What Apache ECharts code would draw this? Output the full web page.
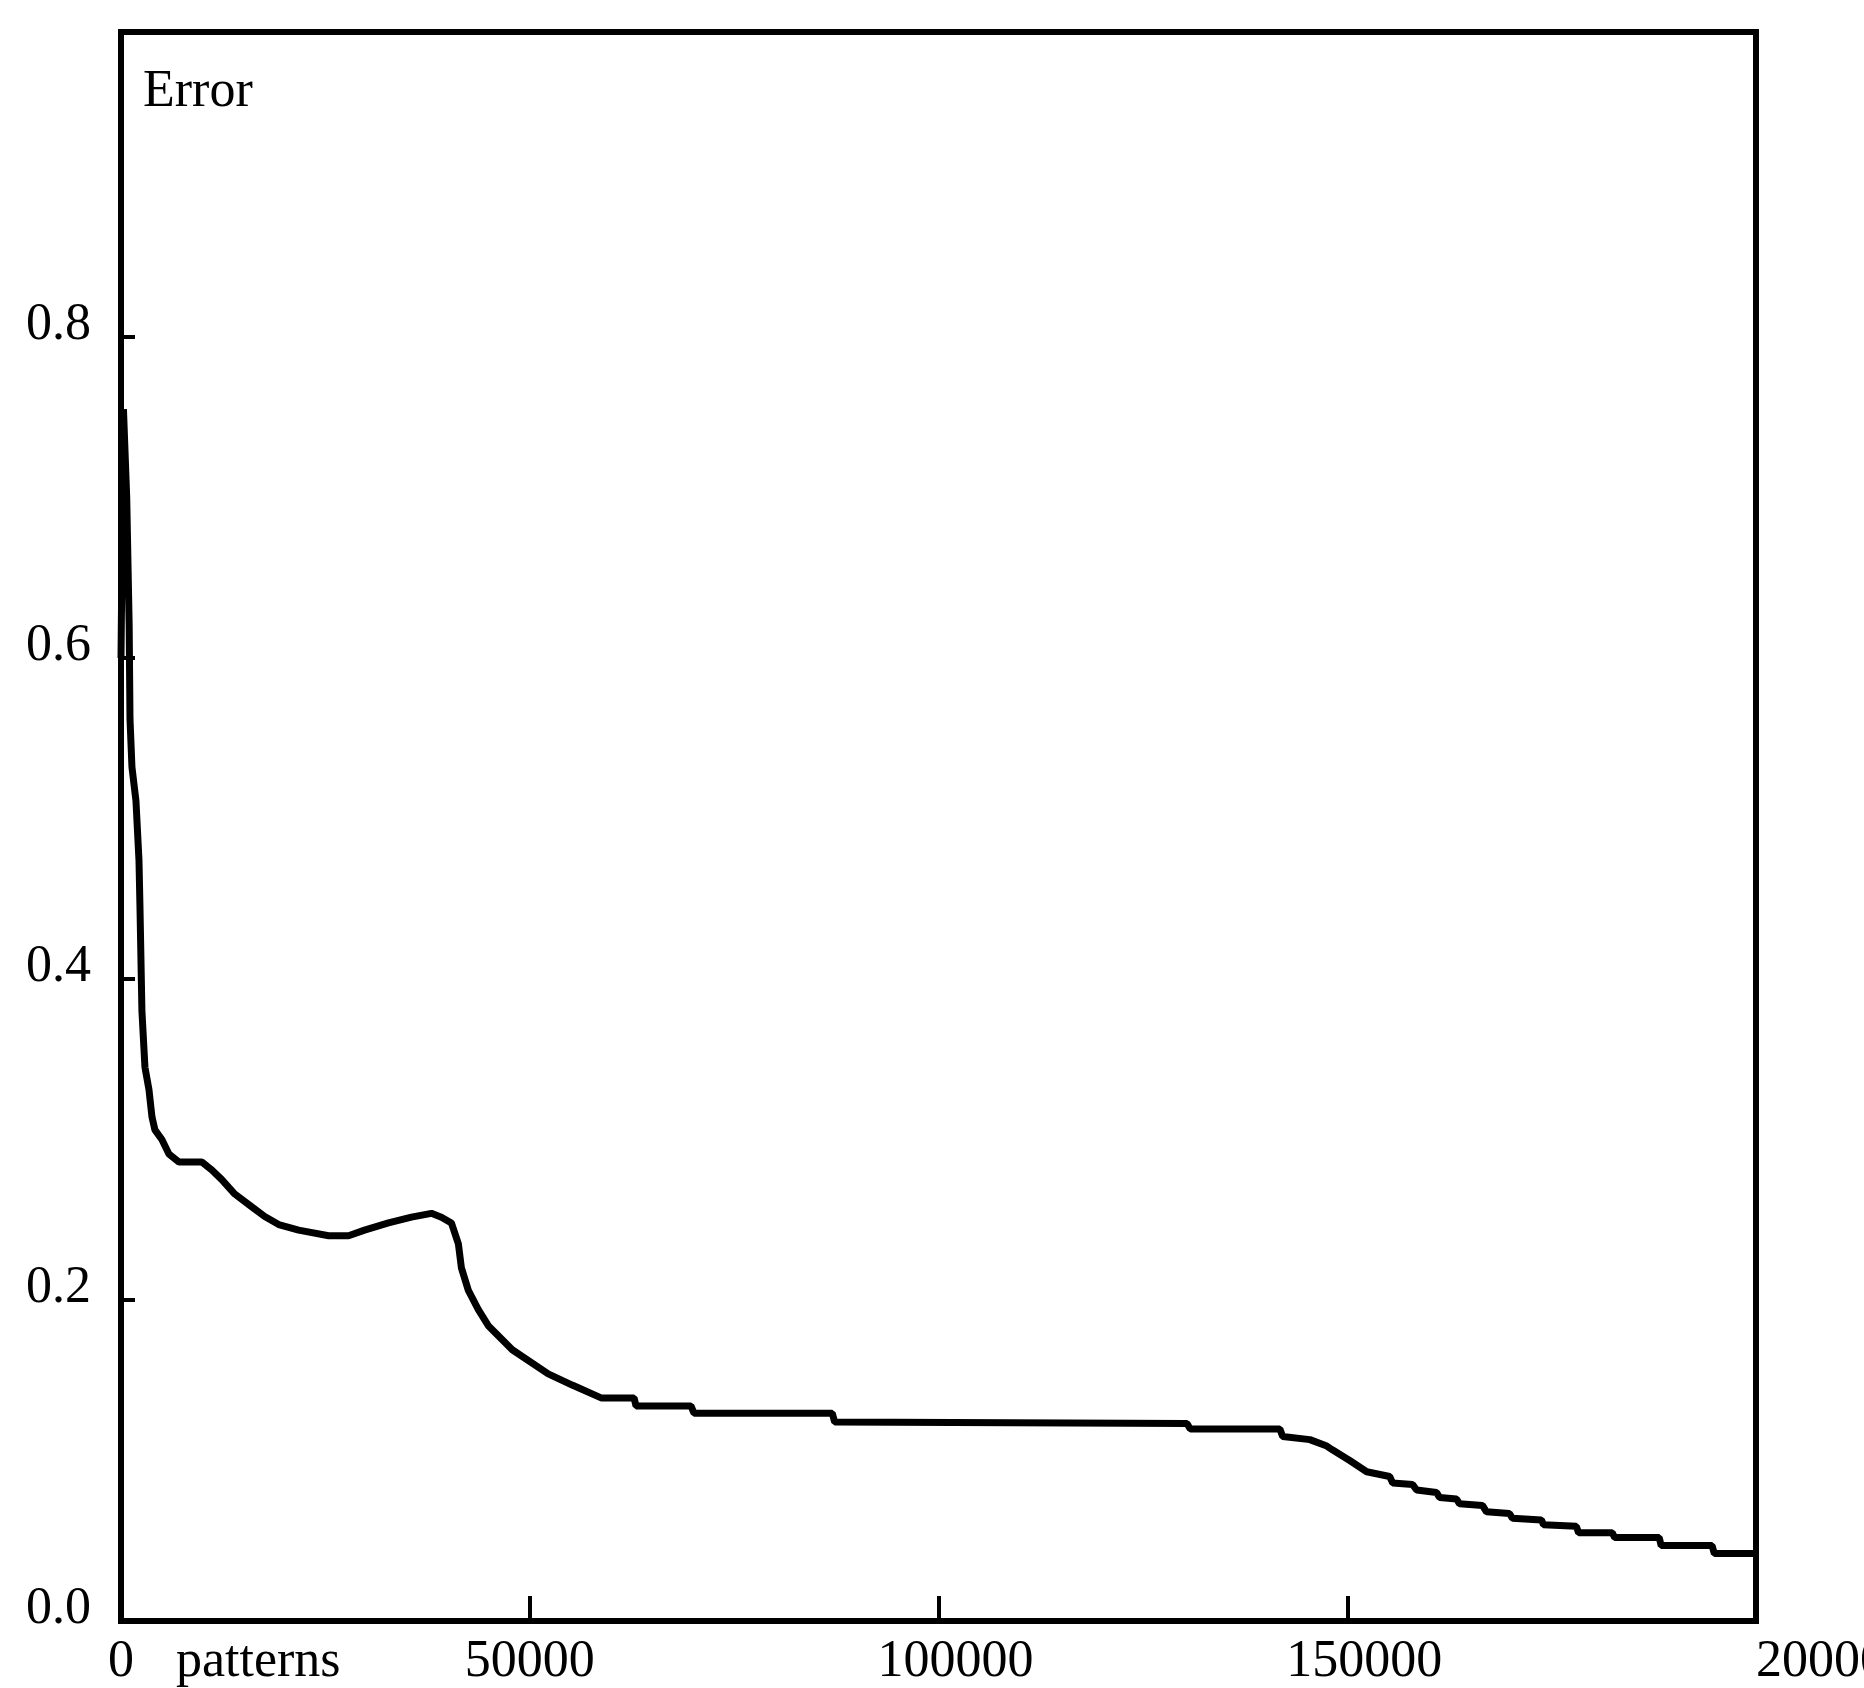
<!DOCTYPE html>
<html>
<head>
<meta charset="utf-8">
<script src="https://cdn.jsdelivr.net/npm/echarts@6/dist/echarts.min.js"></script>
<style>
    html, body { margin: 0; padding: 0; background: #fff; }
    #chart { width: 1864px; height: 1688px; }
</style>
</head>
<body>
<div id="chart"></div>
<script>
// training patterns seen (x) and error (y)
var patterns = [0, 300, 700, 1000, 1100, 1340, 1830, 2200, 2320, 2560, 2930, 3420, 3790, 4150,
    5000, 5860, 7080, 9890, 11110, 12330, 13920, 16000, 17580, 19290, 21730, 25400, 27840,
    29790, 32720, 35530, 37970, 39190, 40415, 41270, 41640, 42490, 43710, 44930, 47860,
    52260, 55190, 58730, 62760, 63000, 69720, 70090, 87000, 87300, 130400, 130800, 141760,
    142100, 145420, 147500, 148230, 150300, 152380, 155190, 155560, 158000, 158490, 160930,
    161290, 163370, 163740, 166540, 167030, 169840, 170200, 173750, 174000, 178020, 178300,
    182420, 182700, 188160, 188400, 194630, 194900, 200000];
var errors = [0.60, 0.755, 0.70, 0.62, 0.562, 0.532, 0.511, 0.474, 0.445, 0.38, 0.345, 0.331, 0.314, 0.306,
    0.300, 0.291, 0.286, 0.286, 0.281, 0.275, 0.266, 0.258, 0.252, 0.247, 0.2435, 0.240, 0.240,
    0.2435, 0.248, 0.2516, 0.254, 0.2516, 0.248, 0.235, 0.220, 0.206, 0.194, 0.184, 0.169,
    0.154, 0.147, 0.139, 0.139, 0.134, 0.134, 0.1295, 0.1295, 0.124, 0.123, 0.1196, 0.1196,
    0.115, 0.113, 0.109, 0.1065, 0.100, 0.093, 0.090, 0.086, 0.085, 0.0816, 0.080,
    0.077, 0.076, 0.073, 0.072, 0.068, 0.067, 0.064, 0.063, 0.060, 0.059, 0.055,
    0.055, 0.052, 0.052, 0.047, 0.047, 0.042, 0.042];
var xTicks = [0, 50000, 100000, 150000, 200000];
var yTicks = ['0.0', '0.2', '0.4', '0.6', '0.8'];

var font = "'Liberation Serif', 'DejaVu Serif', serif";
var chart = echarts.init(document.getElementById('chart'));

var points = [];
for (var i = 0; i < patterns.length; i++) {
    points.push([patterns[i], errors[i]]);
}

var option = {
    animation: false,
    backgroundColor: '#fff',
    grid: {
        left: 121,
        right: 108,
        top: 32,
        bottom: 67,
        containLabel: false,
        outerBoundsMode: 'none',
        show: true,
        borderColor: '#000',
        borderWidth: 6
    },
    xAxis: {
        type: 'value',
        min: xTicks[0],
        max: xTicks[xTicks.length - 1],
        interval: xTicks[1] - xTicks[0],
        axisLine: { show: true, lineStyle: { color: '#000', width: 6 } },
        axisTick: { show: true, inside: true, length: 25, lineStyle: { color: '#000', width: 4 } },
        splitLine: { show: false },
        axisLabel: {
            color: '#000',
            fontFamily: font,
            fontSize: 52,
            margin: 15,
            alignMaxLabel: 'left',
            formatter: function (v) {
                // the printed labels of the middle ticks sit a bit right of their tick
                if (v === xTicks[2] || v === xTicks[3]) {
                    return '{s|' + v + '}';
                }
                return String(v);
            },
            rich: {
                s: { fontFamily: font, fontSize: 52, color: '#000', padding: [0, 0, 0, 34] }
            }
        }
    },
    yAxis: {
        type: 'value',
        min: 0,
        max: 0.99,
        interval: 0.2,
        axisLine: { show: true, lineStyle: { color: '#000', width: 6 } },
        axisTick: { show: true, inside: true, length: 14, lineStyle: { color: '#000', width: 4 } },
        splitLine: { show: false },
        axisLabel: {
            color: '#000',
            fontFamily: font,
            fontSize: 52,
            margin: 30,
            verticalAlign: 'bottom',
            lineHeight: 24,
            showMaxLabel: false,
            formatter: function (v) {
                var k = Math.round(v / 0.2);
                return yTicks[k] !== undefined ? yTicks[k] : '';
            }
        }
    },
    graphic: [
        {
            type: 'text',
            left: 143,
            top: 66,
            style: { text: 'Error', font: '52px ' + font, fill: '#000' }
        },
        {
            type: 'text',
            left: 176,
            top: 1636,
            style: { text: 'patterns', font: '52px ' + font, fill: '#000' }
        }
    ],
    series: [
        {
            type: 'line',
            data: points,
            showSymbol: false,
            smooth: false,
            lineStyle: { color: '#000', width: 7 }
        }
    ]
};
chart.setOption(option);
</script>
</body>
</html>
